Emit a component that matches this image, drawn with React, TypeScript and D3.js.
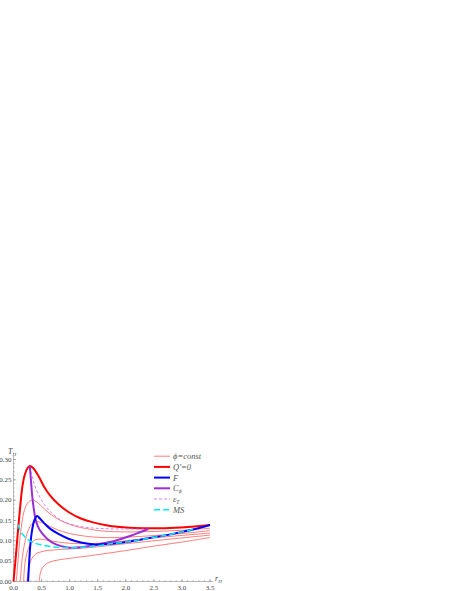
import React from 'react';
import * as d3 from 'd3';

type Pt = [number, number];

// phi = const curves (thin red)
const phiA: Pt[] = [[0.05, 0], [0.08, 0.05], [0.11, 0.1], [0.15, 0.145], [0.2, 0.178], [0.27, 0.196], [0.34, 0.2], [0.4, 0.197], [0.5, 0.185], [0.6, 0.172], [0.75, 0.157], [0.9, 0.146], [1.1, 0.136], [1.3, 0.13], [1.6, 0.124], [2.0, 0.122], [2.5, 0.123], [3.0, 0.126], [3.5, 0.131]];
const phiB: Pt[] = [[0.12, 0], [0.15, 0.05], [0.2, 0.095], [0.26, 0.125], [0.33, 0.142], [0.42, 0.147], [0.5, 0.145], [0.6, 0.139], [0.75, 0.129], [1.0, 0.118], [1.3, 0.111], [1.6, 0.108], [2.0, 0.109], [2.5, 0.113], [3.0, 0.118], [3.5, 0.125]];
const phiC: Pt[] = [[0.18, 0], [0.2, 0.04], [0.24, 0.07], [0.31, 0.094], [0.4, 0.103], [0.5, 0.104], [0.65, 0.1], [0.8, 0.097], [1.0, 0.094], [1.3, 0.093], [1.7, 0.096], [2.2, 0.103], [2.8, 0.111], [3.5, 0.119]];
const phiD: Pt[] = [[0.24, 0], [0.27, 0.03], [0.32, 0.055], [0.4, 0.068], [0.55, 0.075], [0.75, 0.078], [1.0, 0.08], [1.4, 0.084], [2.0, 0.093], [2.7, 0.103], [3.5, 0.114]];
const phiE: Pt[] = [[0.46, 0], [0.47, 0.015], [0.5, 0.03], [0.56, 0.041], [0.65, 0.048], [0.8, 0.053], [1.0, 0.057], [1.5, 0.066], [2.0, 0.076], [2.5, 0.087], [3.0, 0.097], [3.5, 0.108]];
const phiCurves = [phiA, phiB, phiC, phiD, phiE];

const qPrime: Pt[] = [[0, 0], [0.04, 0.06], [0.08, 0.125], [0.12, 0.185], [0.16, 0.235], [0.2, 0.262], [0.25, 0.279], [0.29, 0.284], [0.35, 0.279], [0.45, 0.258], [0.55, 0.232], [0.65, 0.212], [0.8, 0.19], [1.0, 0.169], [1.2, 0.155], [1.4, 0.146], [1.7, 0.137], [2.0, 0.133], [2.3, 0.131], [2.7, 0.131], [3.1, 0.134], [3.5, 0.139]];
const fCurve: Pt[] = [[0.26, 0], [0.28, 0.05], [0.3, 0.09], [0.33, 0.125], [0.37, 0.15], [0.42, 0.161], [0.47, 0.155], [0.55, 0.143], [0.65, 0.13], [0.8, 0.117], [1.0, 0.104], [1.2, 0.096], [1.45, 0.091], [1.7, 0.092], [2.0, 0.097], [2.3, 0.104], [2.6, 0.111], [2.9, 0.119], [3.2, 0.128], [3.5, 0.139]];
const cPhi: Pt[] = [[0.29, 0.284], [0.31, 0.25], [0.33, 0.215], [0.36, 0.18], [0.39, 0.155], [0.43, 0.137], [0.5, 0.12], [0.6, 0.105], [0.7, 0.095], [0.85, 0.087], [1.0, 0.083], [1.2, 0.084], [1.47, 0.09], [1.72, 0.097], [1.9, 0.104], [2.1, 0.113], [2.25, 0.121], [2.4, 0.129]];
const epsT: Pt[] = [[0.29, 0.283], [0.33, 0.26], [0.4, 0.228], [0.5, 0.2], [0.6, 0.18], [0.7, 0.166], [0.83, 0.152], [0.95, 0.144], [1.1, 0.138], [1.3, 0.133], [1.6, 0.13], [2.0, 0.129], [2.4, 0.129]];
const msCurve: Pt[] = [[0.08, 0.14], [0.12, 0.125], [0.18, 0.113], [0.25, 0.104], [0.35, 0.096], [0.5, 0.09], [0.7, 0.085], [0.9, 0.083], [1.1, 0.083], [1.3, 0.085], [1.5, 0.088], [1.7, 0.092], [2.0, 0.097], [2.3, 0.104], [2.6, 0.111], [2.9, 0.119], [3.2, 0.128]];

const xTicks = [0, 0.5, 1.0, 1.5, 2.0, 2.5, 3.0, 3.5];
const yTicks = [0, 0.05, 0.1, 0.15, 0.2, 0.25, 0.3];

const legendItems = [
  { label: 'ϕ=const', color: '#ff5c5c', width: 0.8, dash: '' },
  { label: "Q'=0", color: '#ff0000', width: 2, dash: '' },
  { label: 'F', color: '#0000ff', width: 2, dash: '' },
  { label: 'C', sub: 'ϕ', color: '#9a2fd6', width: 2, dash: '' },
  { label: 'ε', sub: 'T', color: '#c466f5', width: 0.8, dash: '3,2' },
  { label: 'MS', color: '#00ecf0', width: 1.5, dash: '6,3' },
];

const x = d3.scaleLinear().domain([0, 3.5]).range([13.5, 210]);
const y = d3.scaleLinear().domain([0, 0.3]).range([581.5, 459.5]);

const line = d3
  .line<Pt>()
  .x((d) => x(d[0]))
  .y((d) => y(d[1]))
  .curve(d3.curveCatmullRom.alpha(0.5));

const font = '"Liberation Serif", "DejaVu Serif", serif';

const App = () => {
  const xMinor = d3.range(0, 3.51, 0.1);
  const yMinor = d3.range(0, 0.301, 0.01);

  return (
    <svg
      width={457}
      height={591}
      style={{ position: 'absolute', left: 0, top: 0, background: 'white' }}
    >
      {/* axes */}
      <g stroke="#888" strokeWidth={0.6} fill="none">
        <line x1={x(0)} x2={213} y1={y(0)} y2={y(0)} />
        <line x1={x(0)} x2={x(0)} y1={y(0)} y2={456} />
        {xMinor.map((v, i) => (
          <line key={'xm' + i} x1={x(v)} x2={x(v)} y1={y(0)} y2={y(0) - 1.3} />
        ))}
        {xTicks.map((v) => (
          <line key={'xt' + v} x1={x(v)} x2={x(v)} y1={y(0)} y2={y(0) - 2.6} />
        ))}
        {yMinor.map((v, i) => (
          <line key={'ym' + i} x1={x(0)} x2={x(0) + 1.3} y1={y(v)} y2={y(v)} />
        ))}
        {yTicks.map((v) => (
          <line key={'yt' + v} x1={x(0)} x2={x(0) + 2.6} y1={y(v)} y2={y(v)} />
        ))}
      </g>
      <g fontFamily={font} fontSize={7} fill="#444">
        {xTicks.map((v) => (
          <text key={'xl' + v} x={x(v)} y={589.5} textAnchor="middle">
            {v.toFixed(1)}
          </text>
        ))}
        {yTicks.map((v) => (
          <text key={'yl' + v} x={11.5} y={y(v) + 2.3} textAnchor="end">
            {v.toFixed(2)}
          </text>
        ))}
      </g>
      <text x={8} y={454} fontFamily={font} fontSize={8} fontStyle="italic" fill="#444">
        T<tspan fontSize={5} dy={1.5}>H</tspan>
      </text>
      <text x={215} y={581} fontFamily={font} fontSize={8} fontStyle="italic" fill="#444">
        r<tspan fontSize={5} dy={1.5}>H</tspan>
      </text>

      {/* curves */}
      <g fill="none">
        {phiCurves.map((c, i) => (
          <path key={'phi' + i} d={line(c) || ''} stroke="#ff5c5c" strokeWidth={0.8} />
        ))}
        <path d={line(qPrime) || ''} stroke="#ff0000" strokeWidth={2} />
        <path d={line(epsT) || ''} stroke="#c466f5" strokeWidth={0.8} strokeDasharray="3,2" />
        <path d={line(cPhi) || ''} stroke="#9a2fd6" strokeWidth={2} />
        <path d={line(fCurve) || ''} stroke="#0000ff" strokeWidth={2} />
        <path d={line(msCurve) || ''} stroke="#00ecf0" strokeWidth={1.5} strokeDasharray="6,3" />
      </g>

      {/* legend */}
      <g fontFamily={font} fontSize={8.5} fontStyle="italic" fill="#555">
        {legendItems.map((d, i) => {
          const ly = 456.2 + i * 10.7;
          return (
            <g key={d.label}>
              <line
                x1={154}
                x2={170}
                y1={ly}
                y2={ly}
                stroke={d.color}
                strokeWidth={d.width}
                strokeDasharray={d.dash}
              />
              <text x={173} y={ly + 3}>
                {d.label}
                {d.sub && (
                  <tspan fontSize={5.5} dy={1.8}>
                    {d.sub}
                  </tspan>
                )}
              </text>
            </g>
          );
        })}
      </g>
    </svg>
  );
};

export default App;
